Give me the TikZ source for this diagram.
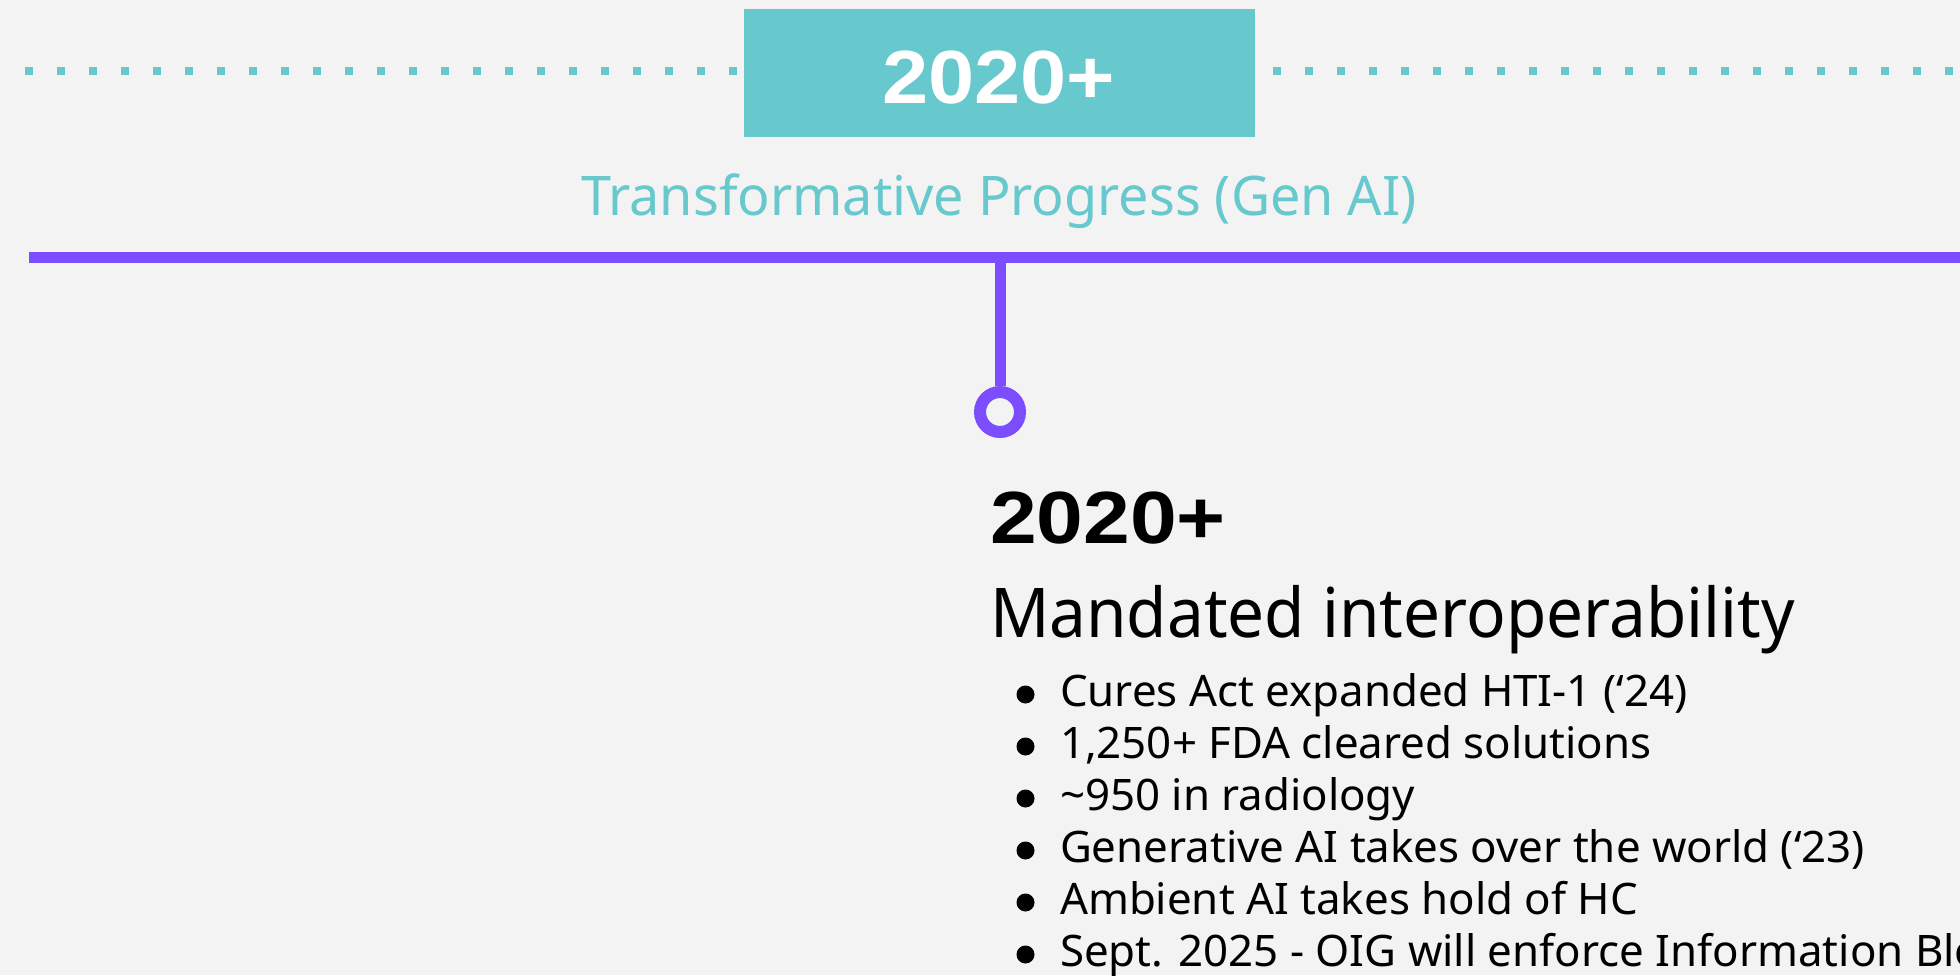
\documentclass[tikz,border=0pt]{standalone}
\usepackage{fontspec}
\usepackage{graphicx}
\setmainfont{Noto Sans}
\newfontfamily\boldfam{Liberation Sans}
\definecolor{bgc}{HTML}{F3F3F3}
\definecolor{tealc}{HTML}{67C8CE}
\definecolor{purp}{HTML}{7B4DFF}
\tikzset{
  txt/.style={inner sep=0pt, outer sep=0pt},
  bulletdot/.style={circle, fill=black, minimum size=18pt, inner sep=0pt},
  item/.style={txt, anchor=base west, font=\fontsize{43.4}{52}\selectfont},
}
\begin{document}
\begin{tikzpicture}[x=1pt,y=-1pt]
\fill[bgc] (0,0) rectangle (1960,975);
\useasboundingbox (0,0) rectangle (1960,975);
\clip (0,0) rectangle (1960,975);
% dotted line
\coordinate (dl) at (25,71);
\coordinate (dr) at (1960,71);
\draw[tealc, line width=8pt, dash pattern=on 8pt off 24pt] (dl) -- (dr);
% box
\node[fill=tealc, minimum width=511pt, minimum height=128pt, inner sep=0pt, anchor=north west] (box) at (744,9) {};
\node[txt, anchor=base, text=white, font=\boldfam\bfseries\fontsize{75.4}{90}\selectfont] (boxt) at (999,103) {\scalebox{1.10}[1]{2020+}};
% subtitle
\node[txt, anchor=base, text=tealc, font=\fontsize{54.6}{66}\selectfont] (sub) at (999,215) {\scalebox{0.987}[1]{Transformative Progress (Gen AI)}};
% timeline
\coordinate (tl) at (29,257.5);
\coordinate (tr) at (1960,257.5);
\coordinate (stemtop) at (1000,257.5);
\draw[purp, line width=11pt] (tl) -- (tr);
\node[circle, draw=purp, fill=bgc, line width=12pt, minimum size=40pt, inner sep=0pt] (dot) at (1000,412) {};
\draw[purp, line width=11pt] (stemtop) -- (dot.north);
% texts
\node[txt, anchor=base west, font=\boldfam\bfseries\fontsize{74}{88}\selectfont] (year) at (990,543) {\scalebox{1.135}[1]{2020+}};
\node[txt, anchor=base west, font=\fontsize{68.6}{82}\selectfont] (head) at (990,637) {\scalebox{0.957}[1]{Mandated interoperability}};
\foreach \i/\t in {0/{Cures Act expanded HTI-1 (‘24)},1/{1,250+ FDA cleared solutions},2/{\textasciitilde 950 in radiology},3/{Generative AI takes over the world (‘23)},4/{Ambient AI takes hold of HC},5/{Sept. 2025 - OIG will enforce Information Blocking}}{
  \node[bulletdot] (b\i) at (1025.5,706-11.5+52*\i) {};
  \node[item] (it\i) at (1060,706+52*\i) {\scalebox{1.01}[1]{\t}};
}
\end{tikzpicture}
\end{document}
